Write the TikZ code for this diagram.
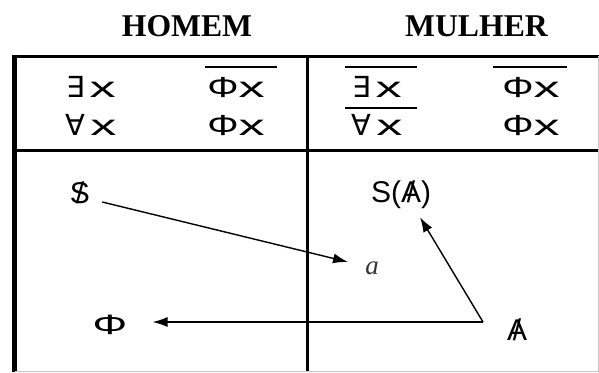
\documentclass[tikz,border=0pt]{standalone}
\usepackage{fontspec}
\usepackage{graphicx}
\setmainfont{Liberation Serif}
\newfontfamily\symf{DejaVu Sans}
\newfontfamily\lsans{Liberation Sans}
\usetikzlibrary{arrows.meta}
\newcommand{\slashed}[1]{\ooalign{#1\cr\hidewidth/\hidewidth\cr}}
\newcommand{\wx}{\scalebox{1.8}[1]{x}}
\newcommand{\wphi}{\scalebox{1.35}[1]{Φ}}
\begin{document}
\begin{tikzpicture}[x=1pt,y=-1pt,
  formula/.style={font=\lsans\fontsize{29}{31}\selectfont, inner sep=0pt, anchor=center},
  head/.style={font=\bfseries\fontsize{31.7}{34}\selectfont, inner sep=0pt},
  frame/.style={line width=3pt},
  arr/.style={-{Latex[length=15pt,width=10pt]}, line width=1.4pt},
  bar/.style={line width=1.5pt}]
\useasboundingbox (0,0) rectangle (599,372);
% frame
\draw[line width=4.5pt] (14.5,54.5) -- (14.5,372);
\draw[frame] (12.5,56.5) -- (599,56.5);
\draw[frame] (14.5,150) -- (599,150);
\draw[frame] (307,56.5) -- (307,372);
\draw[gray!45, line width=1pt] (14.5,371) -- (599,371);
\draw[gray!45, line width=1pt] (598,56) -- (598,372);
% headings
\node[head] (homem) at (187,26) {HOMEM};
\node[head] (mulher) at (476.5,26) {MULHER};
% formulas
\node[formula] (e1) at (91,87) {{\symf ∃}\,\wx};
\node[formula] (p1) at (236,88) {\wphi\wx};
\node[formula] (a1) at (91,125) {{\symf ∀}\,\wx};
\node[formula] (q1) at (236,126) {\wphi\wx};
\node[formula] (e2) at (377,87) {{\symf ∃}\,\wx};
\node[formula] (p2) at (531,88) {\wphi\wx};
\node[formula] (a2) at (377,125) {{\symf ∀}\,\wx};
\node[formula] (q2) at (531,126) {\wphi\wx};
\draw[bar] (205,67) -- (277,67);
\draw[bar] (345,67) -- (417,67);
\draw[bar] (345,108) -- (417,108);
\draw[bar] (493,67) -- (567,67);
% lower part
\node[formula, font=\lsans\fontsize{30}{32}\selectfont] (sb) at (80,193) {\slashed{S}};
\node[font=\itshape\fontsize{27}{30}\selectfont, inner sep=0pt, text=black!80] (a) at (372,268) {a};
\node[formula, font=\lsans\fontsize{28}{30}\selectfont] (phi) at (110,325) {\scalebox{1.55}[1]{Φ}};
\node[formula, font=\lsans\fontsize{30}{32}\selectfont] (sa) at (401,195) {S(\slashed{A})};
\node[formula, font=\lsans\fontsize{30}{32}\selectfont] (ab) at (517,330) {\slashed{A}};
\coordinate (corner) at (483,322);
\draw[arr] ([shift={(12,9)}]sb.east) -- ([shift={(-17,-6)}]a.west);
\draw[arr, shorten >=25pt] (corner) -- (corner -| phi.east);
\draw[arr] (corner) -- ([shift={(19,8)}]sa.south);
\end{tikzpicture}
\end{document}
